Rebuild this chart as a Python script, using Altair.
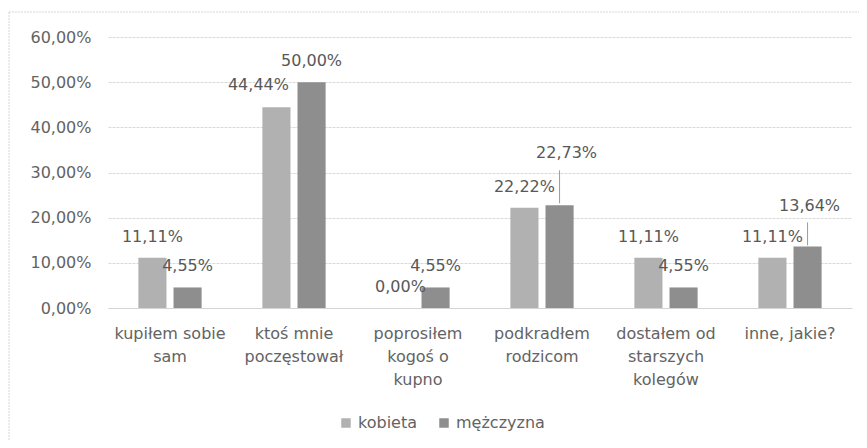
import altair as alt
import pandas as pd

categories = ["kupiłem sobie sam", "ktoś mnie poczęstował", "poprosiłem kogoś o kupno",
              "podkradłem rodzicom", "dostałem od starszych kolegów", "inne, jakie?"]
category_lines = [["kupiłem sobie", "sam"], ["ktoś mnie", "poczęstował"],
                  ["poprosiłem", "kogoś o", "kupno"], ["podkradłem", "rodzicom"],
                  ["dostałem od", "starszych", "kolegów"], ["inne, jakie?"]]
series = ["kobieta", "mężczyzna"]
kobieta = [0.1111, 0.4444, 0.0, 0.2222, 0.1111, 0.1111]
mezczyzna = [0.0455, 0.5000, 0.0455, 0.2273, 0.0455, 0.1364]
tick_values = [0.0, 0.1, 0.2, 0.3, 0.4, 0.5, 0.6]
colors = ["#b1b1b1", "#8e8e8e"]

FONT = "DejaVu Sans"
TXT = "#636363"

rows = []
for c, k, m in zip(categories, kobieta, mezczyzna):
    for s, v in zip(series, [k, m]):
        rows.append({"category": c, "series": s, "value": v,
                     "label": f"{v*100:.2f}%".replace(".", ",")})
df = pd.DataFrame(rows)

# multi-line x labels
expr = "[]"
for c, lines in reversed(list(zip(categories, category_lines))):
    arr = "[" + ",".join("'" + l + "'" for l in lines) + "]"
    expr = f"datum.label == '{c}' ? {arr} : ({expr})"

x_enc = alt.X("category:N", sort=categories, title=None,
              scale=alt.Scale(paddingInner=0.49, paddingOuter=0.245),
              axis=alt.Axis(labelAngle=0, ticks=False, domain=True, domainColor="#d4d4d4",
                            grid=False,
                            labelExpr=expr, labelFont=FONT, labelFontSize=16, labelColor=TXT,
                            labelPadding=17, labelLineHeight=23, labelBaseline="top",
                            labelLimit=200))
xo_enc = alt.XOffset("series:N", sort=series, scale=alt.Scale(paddingInner=0.2))
y_enc = alt.Y("value:Q", title=None,
              scale=alt.Scale(domain=[0, 0.6], nice=False),
              axis=alt.Axis(values=tick_values, domain=False, ticks=False,
                            labelExpr="replace(format(datum.value, '.2%'), '.', ',')",
                            labelFont=FONT, labelFontSize=16, labelColor=TXT, labelPadding=17,
                            grid=True, gridColor="#d9d9d9", gridDash=[3, 1]))

base = alt.Chart(df)

bars = base.mark_bar().encode(
    x=x_enc, xOffset=xo_enc, y=y_enc,
    color=alt.Color("series:N", sort=series,
                    scale=alt.Scale(domain=series, range=colors),
                    legend=alt.Legend(title=None, orient="none", direction="horizontal",
                                      legendX=230, legendY=378, symbolType="square",
                                      symbolSize=90, symbolStrokeWidth=0, labelFont=FONT,
                                      labelFontSize=16, labelColor=TXT, labelOffset=4,
                                      columnPadding=18)),
)

special = [("ktoś mnie poczęstował", "kobieta"), ("podkradłem rodzicom", "mężczyzna"),
           ("inne, jakie?", "mężczyzna")]

def is_pair(c, s):
    return (alt.datum.category == c) & (alt.datum.series == s)

not_special = ~(is_pair(*special[0]) | is_pair(*special[1]) | is_pair(*special[2]))

text_kw = dict(font=FONT, fontSize=16, color="#585858", baseline="middle")
enc = dict(x=alt.X("category:N", sort=categories), xOffset=alt.XOffset("series:N", sort=series),
           y=alt.Y("value:Q"), text="label:N")

labels = base.mark_text(dy=-21, **text_kw).encode(**enc).transform_filter(not_special)
lab1 = base.mark_text(dy=-22, dx=-18, **text_kw).encode(**enc).transform_filter(is_pair(*special[0]))
lab2 = base.mark_text(dy=-52, dx=7, **text_kw).encode(**enc).transform_filter(is_pair(*special[1]))
lab3 = base.mark_text(dy=-40, dx=2, **text_kw).encode(**enc).transform_filter(is_pair(*special[2]))

rule_enc = dict(x=alt.X("category:N", sort=categories), xOffset=alt.XOffset("series:N", sort=series),
                y=alt.Y("value:Q"), y2=alt.Y2("value"))
lead2 = base.mark_rule(color="#9a9a9a", strokeWidth=1, yOffset=-2, y2Offset=-35).encode(**rule_enc).transform_filter(is_pair(*special[1]))
lead3 = base.mark_rule(color="#9a9a9a", strokeWidth=1, yOffset=-1, y2Offset=-24).encode(**rule_enc).transform_filter(is_pair(*special[2]))

frame_left = alt.Chart(pd.DataFrame({"a": [0]})).mark_rule(color="#d6d6d6", strokeDash=[2, 1]).encode(
    x=alt.value(-99), y=alt.value(-25), y2=alt.value(420))
frame_top = alt.Chart(pd.DataFrame({"a": [0]})).mark_rule(color="#d6d6d6", strokeDash=[2, 1]).encode(
    x=alt.value(-99), x2=alt.value(758), y=alt.value(-25))

chart = alt.layer(frame_left, frame_top, bars, labels, lab1, lab2, lab3, lead2, lead3).properties(
    width=744, height=271,
    autosize=alt.AutoSizeParams(type="none"),
    padding={"left": 100, "top": 29, "right": 7, "bottom": 132},
).configure(background="white").configure_view(strokeWidth=0, strokeOpacity=0)

chart.save("out.html", embed_options={"renderer": "svg", "actions": False})
